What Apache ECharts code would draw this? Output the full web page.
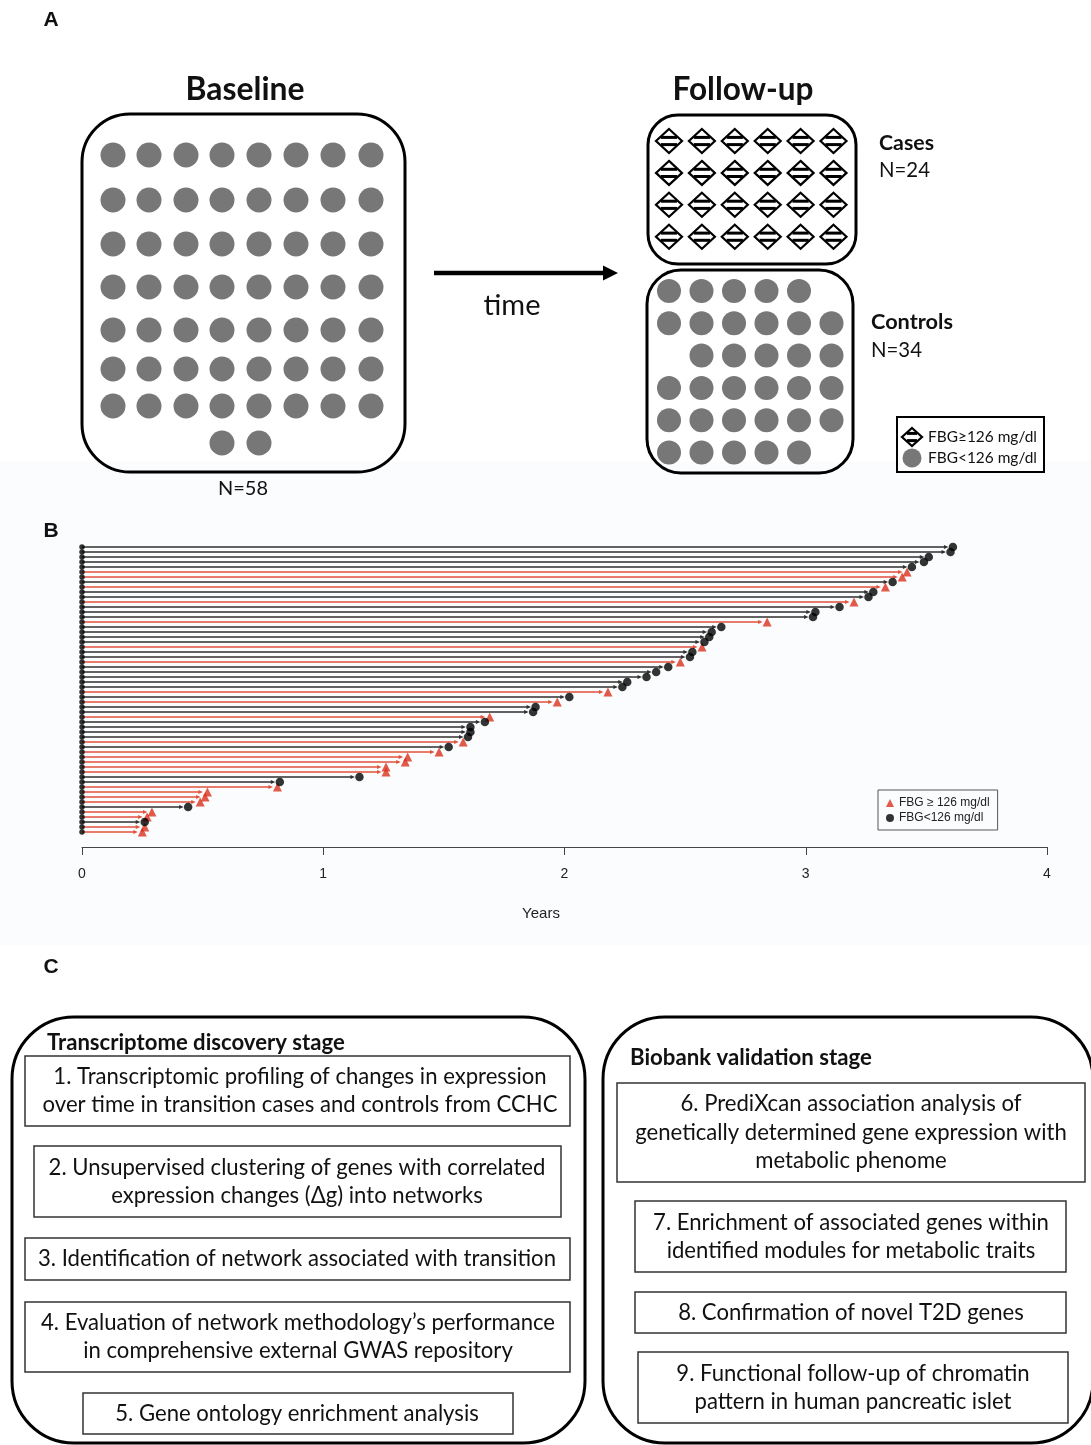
<!DOCTYPE html>
<html><head><meta charset="utf-8">
<script src="https://cdn.jsdelivr.net/npm/echarts@6/dist/echarts.min.js"></script>
<style>html,body{margin:0;padding:0;background:#fff}#c{width:1091px;height:1445px}</style>
</head><body><div id="c"></div>
<script>
// ================= DATA =================
// Panel B: years of follow-up per participant (top row first)
const followUpYears = [3.61,3.60,3.51,3.49,3.44,3.42,3.40,3.36,3.33,3.28,3.26,3.20,3.14,3.04,3.03,2.84,
  2.65,2.61,2.60,2.58,2.57,2.53,2.52,2.48,2.43,2.38,2.34,2.26,2.24,2.18,2.02,1.97,1.88,1.87,
  1.69,1.67,1.61,1.61,1.60,1.58,1.52,1.48,1.35,1.34,1.26,1.26,1.15,0.82,0.81,0.52,0.51,0.49,
  0.44,0.29,0.27,0.26,0.26,0.25];
// T = FBG >= 126 mg/dl at follow-up (case), C = FBG < 126 mg/dl (control)
const fbgStatus = ['C','C','C','C','C','T','T','C','T','C','C','T','C','C','C','T','C','C','C','C',
  'T','C','C','T','C','C','C','C','C','T','C','T','C','C','T','C','C','C','C','T','C','T','T','T',
  'T','T','C','C','T','T','T','T','C','T','T','C','T','T'];
const xTickLabels = ['0','1','2','3','4'];
const legendB = ['FBG \u2265 126 mg/dl', 'FBG<126 mg/dl'];

// Panel A: counts
const baselineRowCounts = [8,8,8,8,8,8,8,2];
const caseRows = 4, caseCols = 6;            // N=24
const controlRowCols = [[0,1,2,3,4],[0,1,2,3,4,5],[1,2,3,4,5],[0,1,2,3,4,5],[0,1,2,3,4,5],[0,1,2,3,4]];
const panelALabels = {baseline:'Baseline', follow:'Follow-up', time:'time', nBase:'N=58',
  cases:'Cases', nCases:'N=24', controls:'Controls', nControls:'N=34',
  legHigh:'FBG\u2265126 mg/dl', legLow:'FBG<126 mg/dl'};

// Panel C: steps
const discoveryTitle = 'Transcriptome discovery stage';
const discoverySteps = [
  ['1. Transcriptomic profiling of changes in expression','over time in transition cases and controls from CCHC'],
  ['2. Unsupervised clustering of genes with correlated','expression changes (\u0394g) into networks'],
  ['3. Identification of network associated with transition'],
  ['4. Evaluation of network methodology\u2019s performance','in comprehensive external GWAS repository'],
  ['5. Gene ontology enrichment analysis']
];
const validationTitle = 'Biobank validation stage';
const validationSteps = [
  ['6. PrediXcan association analysis of','genetically determined gene expression with','metabolic phenome'],
  ['7. Enrichment of associated genes within','identified modules for metabolic traits'],
  ['8. Confirmation of novel T2D genes'],
  ['9. Functional follow-up of chromatin','pattern in human pancreatic islet']
];

// ================= LAYOUT =================
const SANS = 'Lato';
const ARIAL = 'Liberation Sans';
const mctx = document.createElement('canvas').getContext('2d');
function fitSize(text, weight, family, target){
  mctx.font = weight + ' 100px "' + family + '"';
  return 100 * target / mctx.measureText(text).width;
}
const G = [];
function txt(text, x, y, size, opts){
  opts = opts || {};
  G.push({type:'text', z: 5, style:{text:text, x:x, y:y, fontSize:size, fontFamily:opts.family||SANS,
    fontWeight:opts.weight||'normal', fill:opts.fill||'#111', align:opts.align||'center', verticalAlign:'middle'}});
}
function rrect(x,y,w,h,r,lw,stroke){
  G.push({type:'rect', z:4, shape:{x:x,y:y,width:w,height:h,r:r}, style:{fill:'none', stroke:stroke||'#000', lineWidth:lw}});
}

// faint tint behind panel B
G.push({type:'rect', z:-10, shape:{x:0,y:462,width:1091,height:483}, style:{fill:'#fafcfd'}});

// panel letters
txt('A', 51, 20, 21, {family:ARIAL, weight:'bold'});
txt('B', 51, 531, 21, {family:ARIAL, weight:'bold'});
txt('C', 51, 967, 21, {family:ARIAL, weight:'bold'});

// ---- Panel A ----
txt(panelALabels.baseline, 245, 90, fitSize(panelALabels.baseline,'bold',SANS,119), {weight:'bold'});
txt(panelALabels.follow, 743, 90, fitSize(panelALabels.follow,'bold',SANS,141), {weight:'bold'});
rrect(82,114,323,358,48,3);
const baseColX = [113,149,186,222,259,296,333,371];
const baseRowY = [155,200,244,287,330,369,406,443];
baselineRowCounts.forEach(function(n, r){
  const startCol = n === 8 ? 0 : 3;
  for (let c = 0; c < n; c++) {
    G.push({type:'circle', z:5, shape:{cx:baseColX[startCol+c], cy:baseRowY[r], r:12.5}, style:{fill:'#777'}});
  }
});
txt(panelALabels.nBase, 243, 489, fitSize(panelALabels.nBase,'normal',SANS,50));
// arrow
G.push({type:'line', z:5, shape:{x1:434,y1:273,x2:606,y2:273}, style:{stroke:'#000', lineWidth:4.5}});
G.push({type:'polygon', z:5, shape:{points:[[603,265.5],[618,273],[603,280.5]]}, style:{fill:'#000'}});
txt(panelALabels.time, 512, 306, fitSize(panelALabels.time,'normal',SANS,57));

function diamond(cx, cy, hw, hh){
  G.push({type:'polygon', z:5, shape:{points:[[cx,cy-hh],[cx+hw,cy],[cx,cy+hh],[cx-hw,cy]]},
    style:{fill:'#fff', stroke:'#000', lineWidth:2.2}});
  [-3.6, 3.6].forEach(function(d){
    const half = hw * (1 - Math.abs(d)/hh) - 1;
    G.push({type:'line', z:6, shape:{x1:cx-half, y1:cy+d, x2:cx+half, y2:cy+d}, style:{stroke:'#000', lineWidth:3}});
  });
}
rrect(648,115,208,149,30,3);
for (let r = 0; r < caseRows; r++) for (let c = 0; c < caseCols; c++) diamond(669 + 32.9*c, 141 + 31.9*r, 13, 12);
rrect(647,270,206,203,34,3);
controlRowCols.forEach(function(cols, r){
  cols.forEach(function(c){
    G.push({type:'circle', z:5, shape:{cx:669 + 32.5*c, cy:291 + 32.3*r, r:12}, style:{fill:'#777'}});
  });
});
txt(panelALabels.cases, 879, 143, fitSize(panelALabels.cases,'bold',SANS,55), {weight:'bold', align:'left'});
txt(panelALabels.nCases, 879, 170, fitSize(panelALabels.nCases,'normal',SANS,51), {align:'left'});
txt(panelALabels.controls, 871, 322, fitSize(panelALabels.controls,'bold',SANS,82), {weight:'bold', align:'left'});
txt(panelALabels.nControls, 871, 350, fitSize(panelALabels.nControls,'normal',SANS,51), {align:'left'});
// panel A legend
G.push({type:'rect', z:4, shape:{x:897,y:417,width:147,height:55}, style:{fill:'#fff', stroke:'#000', lineWidth:2}});
diamond(912, 437, 10, 9);
G.push({type:'circle', z:5, shape:{cx:912, cy:458, r:9.5}, style:{fill:'#777'}});
const legSize = fitSize(panelALabels.legLow,'normal',SANS,109);
txt(panelALabels.legHigh, 928, 437, legSize, {align:'left'});
txt(panelALabels.legLow, 928, 458, legSize, {align:'left'});

// ---- Panel C ----
rrect(12,1017,573,426,62,3);
rrect(603,1017,490,426,62,3);
txt(discoveryTitle, 47, 1043, fitSize(discoveryTitle,'bold',SANS,298), {weight:'bold', align:'left'});
txt(validationTitle, 630, 1058, fitSize(validationTitle,'bold',SANS,242), {weight:'bold', align:'left'});
// inner boxes [x, y, w, h, centerX, lineY[], lineTargetWidth[]]
const discoveryBoxes = [
  [25,1056,545,70, 300,[1077,1105],[493,510]],
  [34,1146,527,71, 297,[1168,1196],[497,371]],
  [25,1238,545,42, 297,[1259],[519]],
  [25,1302,545,70, 298,[1323,1351],[516,428]],
  [83,1393,430,41, 297,[1414],[364]]
];
const validationBoxes = [
  [617,1083,468,99, 851,[1104,1133,1161],[344,433,187]],
  [635,1201,431,71, 851,[1223,1251],[370,372]],
  [635,1292,431,41, 851,[1313],[342]],
  [638,1352,430,71, 853,[1374,1402],[352,320]]
];
const ratios = [];
function collect(steps, boxes){
  steps.forEach(function(lines, i){ lines.forEach(function(t, j){ ratios.push(fitSize(t,'normal',SANS,boxes[i][6][j])); }); });
}
collect(discoverySteps, discoveryBoxes); collect(validationSteps, validationBoxes);
ratios.sort(function(a,b){return a-b;});
const bodySize = ratios[Math.floor(ratios.length/2)];
function drawSteps(steps, boxes){
  steps.forEach(function(lines, i){
    const b = boxes[i];
    G.push({type:'rect', z:4, shape:{x:b[0],y:b[1],width:b[2],height:b[3]}, style:{fill:'#fff', stroke:'#333', lineWidth:1.5}});
    lines.forEach(function(t, j){ txt(t, b[4], b[5][j], bodySize); });
  });
}
drawSteps(discoverySteps, discoveryBoxes);
drawSteps(validationSteps, validationBoxes);

// Years label
G.push({type:'text', z:5, style:{text:'Years', x:541, y:914, fontSize:15, fontFamily:ARIAL, fill:'#222', align:'center', verticalAlign:'middle'}});

// ================= CHART =================
const RED_LINE = '#e0523c', RED_MARK = '#d9301c', DARK_LINE = '#2f2f2f';
const rows = followUpYears.map(function(v, i){ return [v, i + 1, fbgStatus[i] === 'T' ? 1 : 0]; });

const option = {
  backgroundColor: '#ffffff',
  animation: false,
  grid: {left: 82, right: 44, top: 544.5, height: 290},
  xAxis: {
    type: 'value', min: 0, max: 4, interval: 1, offset: 12.5,
    axisLine: {show: true, onZero: false, lineStyle: {color: '#444', width: 1}},
    axisTick: {show: true, length: 8, lineStyle: {color: '#444', width: 1}},
    axisLabel: {margin: 20, fontSize: 14, color: '#222', fontFamily: ARIAL,
      formatter: function(v){ return xTickLabels[Math.round(v)]; }},
    splitLine: {show: false}
  },
  yAxis: {type: 'value', inverse: true, min: 0.5, max: 58.5, show: false},
  legend: {
    orient: 'vertical', left: 878, top: 790, data: legendB,
    itemWidth: 8, itemHeight: 8, itemGap: 3, padding: [7, 8, 6, 8],
    borderColor: '#555', borderWidth: 1, borderRadius: 0,
    textStyle: {fontSize: 12, color: '#222', fontFamily: ARIAL}
  },
  series: [
    {
      type: 'custom', name: 'follow-up span', silent: true, z: 2,
      data: rows, encode: {x: 0, y: 1},
      renderItem: function(params, api){
        const y = api.value(1);
        const start = api.coord([0, y]);
        const end = api.coord([api.value(0), y]);
        const col = api.value(2) ? RED_LINE : DARK_LINE;
        const tip = end[0] - 4.5;
        return {type: 'group', children: [
          {type: 'line', shape: {x1: start[0], y1: start[1], x2: tip - 3, y2: start[1]}, style: {stroke: col, lineWidth: 1.4}},
          {type: 'polygon', shape: {points: [[tip, end[1]], [tip - 4.5, end[1] - 2], [tip - 4.5, end[1] + 2]]}, style: {fill: col}}
        ]};
      }
    },
    {
      type: 'scatter', name: 'baseline', silent: true, z: 3,
      data: rows.map(function(r){ return [0, r[1]]; }),
      symbol: 'circle', symbolSize: 5.5, itemStyle: {color: '#000'}
    },
    {
      type: 'scatter', name: legendB[0], z: 4,
      data: rows.filter(function(r){ return r[2] === 1; }).map(function(r){ return [r[0], r[1]]; }),
      symbol: 'triangle', symbolSize: 9, itemStyle: {color: RED_MARK}
    },
    {
      type: 'scatter', name: legendB[1], z: 4,
      data: rows.filter(function(r){ return r[2] === 0; }).map(function(r){ return [r[0], r[1]]; }),
      symbol: 'circle', symbolSize: 8.5, itemStyle: {color: '#000'}
    }
  ],
  graphic: G
};
const chart = echarts.init(document.getElementById('c'), null, {renderer: 'canvas'});
chart.setOption(option);
</script>
</body></html>
